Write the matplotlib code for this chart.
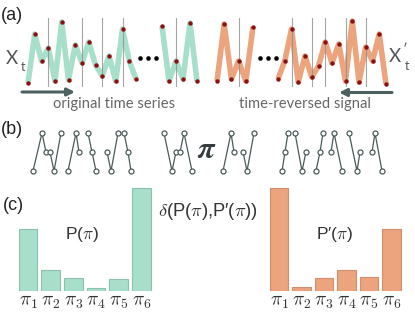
import matplotlib
matplotlib.use('Agg')
import matplotlib.pyplot as plt

plt.rcParams['mathtext.fontset'] = 'cm'

W, H = 415, 312
fig = plt.figure(figsize=(W / 100, H / 100), dpi=100)

# ---------------- data ----------------
# (a) original series (amplitudes), two visible segments
orig_seg1 = [7, 56, 29, 42, 9, 68, 10, 45, 27, 48, 25, 14, 34, 9, 61, 29, 11]
orig_seg2 = [64, 9, 29, 11, 67, 9]
orig_marks1 = [3, 8, 11, 14]
orig_marks2 = [2]
# time-reversed series
rev_seg1 = [9, 66, 11, 29, 9, 63]
rev_seg2 = [11, 29, 61, 8, 34, 13, 24, 48, 27, 46, 9, 69, 8, 43, 29, 56, 6]
rev_marks1 = [3]
rev_marks2 = [2, 5, 7, 10, 13]

# (b) ordinal patterns: x positions and ranks (0 low, 1 mid, 2 high)
pat_left_x = [[33, 42, 46], [50, 54, 61], [68, 76, 79], [88, 92, 96],
              [107, 111, 118], [124, 128, 131], [164, 172, 176], [180, 184, 192]]
pat_left_r = [[0, 2, 1], [1, 0, 2], [0, 2, 1], [2, 1, 0],
              [1, 0, 2], [2, 1, 0], [2, 0, 1], [1, 2, 0]]
pat_right_x = [[223, 231, 234], [243, 247, 254], [282, 285, 288], [295, 302, 306],
               [316, 320, 323], [331, 334, 342], [349, 357, 360], [372, 375, 382]]
pat_right_r = [[0, 2, 1], [1, 0, 2], [0, 1, 2], [2, 0, 1],
               [0, 1, 2], [1, 2, 0], [2, 0, 1], [1, 2, 0]]

# (c) pattern distributions
pattern_labels = [r'$\pi_1$', r'$\pi_2$', r'$\pi_3$', r'$\pi_4$', r'$\pi_5$', r'$\pi_6$']
p_orig = [0.29, 0.10, 0.06, 0.015, 0.055, 0.48]
p_rev = [0.48, 0.02, 0.06, 0.10, 0.065, 0.29]

TEAL = '#a8dfcb'
TEAL_E = '#8cc2ad'
ORANGE = '#eca47f'
ORANGE_E = '#d38e6b'
DOT = '#8e1111'
DARK = '#4b5a5a'


def ax_px(x0, y0, x1, y1):
    a = fig.add_axes([x0 / W, 1 - y1 / H, (x1 - x0) / W, (y1 - y0) / H])
    a.set_axis_off()
    return a


# ---------------- panel (a) ----------------
def draw_seg(x0, x1, vals, marks, color):
    a = ax_px(x0, 18, x1, 87)
    n = len(vals)
    a.set_xlim(0, n - 1)
    a.set_ylim(3, 72)
    a.plot(range(n), vals, color=color, lw=4.0, solid_joinstyle='round',
           solid_capstyle='butt', zorder=1, clip_on=False)
    for m in marks:
        a.axvline(m, color='#8f8f8f', lw=0.8, alpha=0.8, zorder=2)
    a.plot(range(n), vals, 'o', color=DOT, ms=3.2, mew=0, zorder=3, clip_on=False)


draw_seg(28, 136, orig_seg1, orig_marks1, TEAL)
draw_seg(162, 197, orig_seg2, orig_marks2, TEAL)
draw_seg(217, 253, rev_seg1, rev_marks1, ORANGE)
draw_seg(278, 386, rev_seg2, rev_marks2, ORANGE)

# overlay in pixel coordinates for annotations
ov = fig.add_axes([0, 0, 1, 1])
ov.set_xlim(0, W)
ov.set_ylim(H, 0)
ov.set_axis_off()
ov.patch.set_alpha(0)

for xd in (140, 148, 156, 260, 268, 276):
    ov.plot(xd, 58, 'o', color='black', ms=3.3, mew=0)

ov.annotate('', xy=(75, 92), xytext=(22, 92),
            arrowprops=dict(arrowstyle='-|>', color='#4d6161', lw=2.2,
                            mutation_scale=11, shrinkA=0, shrinkB=0))
ov.annotate('', xy=(339, 92.5), xytext=(392, 92.5),
            arrowprops=dict(arrowstyle='-|>', color='#4d6161', lw=2.2,
                            mutation_scale=11, shrinkA=0, shrinkB=0))

sans = ['Liberation Sans', 'DejaVu Sans']
hum = ['Lato', 'DejaVu Sans']
ov.text(114, 104, 'original time series', ha='center', va='center',
        fontsize=10.6, color='#666666', family=hum)
ov.text(305, 104, 'time-reversed signal', ha='center', va='center',
        fontsize=10.6, color='#666666', family=hum)

ov.text(6, 59, 'X', ha='left', va='center', fontsize=13.5, color='#555555', family=hum)
ov.text(21, 67, 't', ha='left', va='center', fontsize=9, color='#555555', family=hum)
ov.text(389, 57, 'X', ha='left', va='center', fontsize=13.5, color='#555555', family=hum)
ov.text(403, 50, '′', ha='left', va='center', fontsize=10, color='#555555', family=hum)
ov.text(405, 66, 't', ha='left', va='center', fontsize=9, color='#555555', family=hum)

ov.text(1, 16, '(a)', ha='left', va='center', fontsize=13, color='#222222', family=sans)
ov.text(1, 129, '(b)', ha='left', va='center', fontsize=13, color='#222222', family=sans)
ov.text(3, 205, '(c)', ha='left', va='center', fontsize=13, color='#222222', family=sans)

# ---------------- panel (b) ----------------
pb = ax_px(0, 133, W, 171)
pb.set_xlim(0, W)
pb.set_ylim(0, 2)
for xs, rs in list(zip(pat_left_x, pat_left_r)) + list(zip(pat_right_x, pat_right_r)):
    pb.plot(xs, rs, '-', color=DARK, lw=0.9, zorder=1, clip_on=False)
    pb.plot(xs, rs, 'o', mfc='white', mec=DARK, mew=0.9, ms=3.6, zorder=2, clip_on=False)

ov.text(207, 150, r'$\boldsymbol{\pi}$', ha='center', va='center', fontsize=22,
        color='#333d3d')

# ---------------- panel (c) ----------------
def bar_axes(x0, x1, vals, face, edge):
    a = fig.add_axes([x0 / W, 1 - 291 / H, (x1 - x0) / W, 107.3 / H])
    a.bar(range(len(vals)), vals, width=0.82, color=face, edgecolor=edge, lw=0.8)
    a.set_xlim(-0.5, len(vals) - 0.5)
    a.set_ylim(0, 0.5)
    for s in a.spines.values():
        s.set_visible(False)
    a.set_yticks([])
    a.set_xticks(range(len(vals)))
    a.set_xticklabels(pattern_labels, fontsize=14, color='#333333')
    a.tick_params(axis='x', length=0, pad=1)
    a.patch.set_alpha(0)
    return a


bar_axes(16.65, 152.85, p_orig, TEAL, TEAL_E)
bar_axes(267.75, 402.75, p_rev, ORANGE, ORANGE_E)

ov.text(82, 235, r'P($\pi$)', ha='center', va='center', fontsize=12.5,
        color='#333333', family=sans)
ov.text(335, 234, r'P′($\pi$)', ha='center', va='center', fontsize=12.5,
        color='#333333', family=sans)
ov.text(207.5, 211, r'$\delta$(P($\pi$),P′($\pi$))', ha='center', va='center',
        fontsize=13.2, color='#333333', family=sans)

fig.savefig('out.png', dpi=100)
